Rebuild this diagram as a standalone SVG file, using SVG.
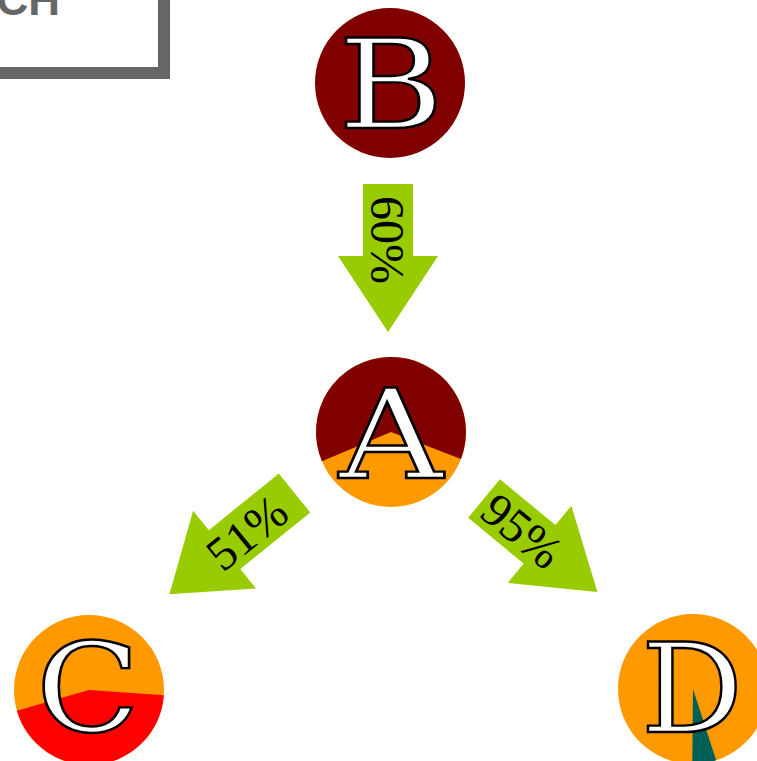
<svg xmlns="http://www.w3.org/2000/svg" width="757" height="761" viewBox="0 0 757 761">
<style>
.arrow{fill:#99CC00}
.lbl{font-family:"Liberation Serif",serif;font-size:48px;fill:#000;text-anchor:middle}
.letter{font-family:"DejaVu Serif",serif;font-size:123px;fill:#fff;stroke:#000;stroke-width:2.4;text-anchor:middle}
</style>
<rect width="757" height="761" fill="#fff"/>
<g id="title">
<rect x="-20" y="-20" width="184" height="93" fill="#fff" stroke="#666666" stroke-width="12"/>
<text x="60" y="15" font-family="Liberation Sans, sans-serif" font-weight="bold" font-size="44" fill="#666666" text-anchor="end">CH</text>
</g>
<g id="connectors">
<g id="edge-BA" transform="translate(388,184) rotate(90)">
<path class="arrow" d="M0,-25H72V-50L148,0L72,50V25H0Z"/>
<text class="lbl" x="56" y="17">60%</text>
</g>
<g id="edge-AC" transform="translate(294.5,493) rotate(141)">
<path class="arrow" d="M0,-25H90V-50L161,0L90,50V25H0Z"/>
<text class="lbl" transform="translate(62,0) rotate(180)" y="17">51%</text>
</g>
<g id="edge-AD" transform="translate(484,498.5) rotate(39.5)">
<path class="arrow" d="M0,-25H72V-50L147,0L72,50V25H0Z"/>
<text class="lbl" x="50" y="17">95%</text>
</g>
</g>
<g id="node-B">
<circle cx="390" cy="83" r="75" fill="#800000"/>
<text class="letter" x="391" y="128" textLength="106" lengthAdjust="spacingAndGlyphs">B</text>
</g>
<g id="node-A">
<circle cx="391" cy="432" r="75" fill="#FF9900"/>
<path d="M391,432L461,458.9A75,75 0 1 0 322,461.3Z" fill="#800000"/>
<text class="letter" x="391" y="478" textLength="104" lengthAdjust="spacingAndGlyphs">A</text>
</g>
<g id="node-C">
<circle cx="89" cy="690" r="75" fill="#FF9900"/>
<path d="M89,690L163.8,695.2A75,75 0 0 1 16.9,710.7Z" fill="#FF0000"/>
<text class="letter" x="88" y="731" textLength="104" lengthAdjust="spacingAndGlyphs">C</text>
</g>
<g id="node-D">
<circle cx="693" cy="689" r="75" fill="#FF9900"/>
<path d="M693,689L716.2,760.3A75,75 0 0 1 692.3,764Z" fill="#006058"/>
<text class="letter" x="692" y="732" textLength="102" lengthAdjust="spacingAndGlyphs">D</text>
</g>
</svg>
